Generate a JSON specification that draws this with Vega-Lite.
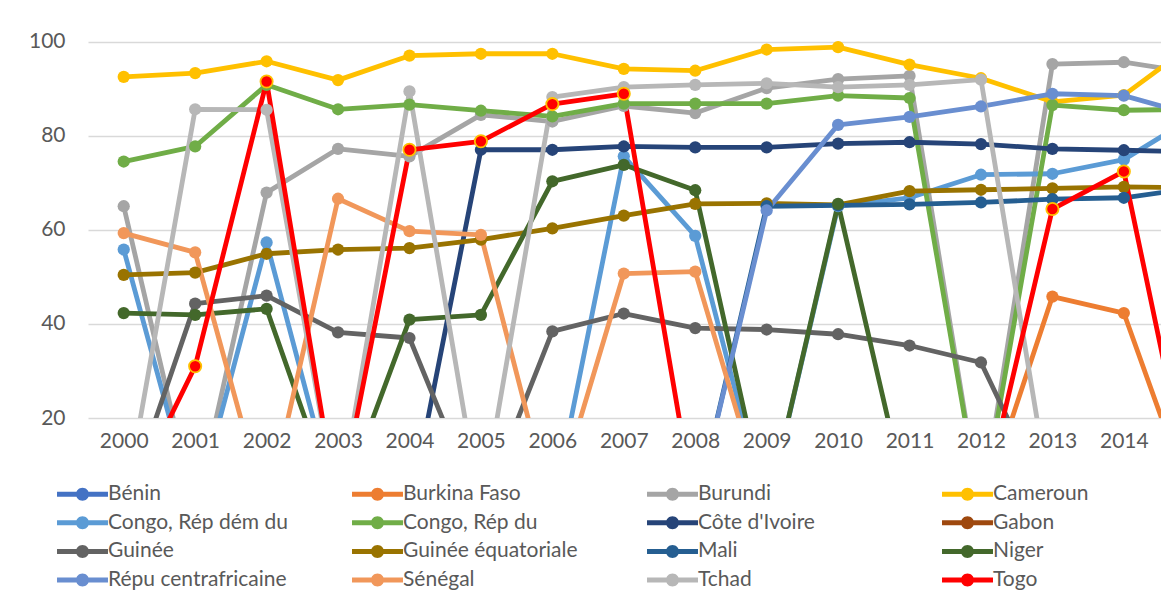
{
  "$schema": "https://vega.github.io/schema/vega-lite/v6.json",
  "autosize": {"type": "none"},
  "padding": {"left": 88, "top": 18, "right": 0, "bottom": 177},
  "width": 1073,
  "height": 400,
  "background": "white",
  "data": {"values": [
    {"country":"Bénin","year":2000,"value":0},{"country":"Bénin","year":2001,"value":0},{"country":"Bénin","year":2002,"value":0},{"country":"Bénin","year":2003,"value":0},{"country":"Bénin","year":2004,"value":0},{"country":"Bénin","year":2005,"value":0},{"country":"Bénin","year":2006,"value":0},{"country":"Bénin","year":2007,"value":0},{"country":"Bénin","year":2008,"value":0},{"country":"Bénin","year":2009,"value":0},{"country":"Bénin","year":2010,"value":0},{"country":"Bénin","year":2011,"value":0},{"country":"Bénin","year":2012,"value":0},{"country":"Bénin","year":2013,"value":0},{"country":"Bénin","year":2014,"value":0},{"country":"Bénin","year":2015,"value":0},
    {"country":"Burkina Faso","year":2000,"value":0},{"country":"Burkina Faso","year":2001,"value":0},{"country":"Burkina Faso","year":2002,"value":0},{"country":"Burkina Faso","year":2003,"value":0},{"country":"Burkina Faso","year":2004,"value":0},{"country":"Burkina Faso","year":2005,"value":0},{"country":"Burkina Faso","year":2006,"value":0},{"country":"Burkina Faso","year":2007,"value":0},{"country":"Burkina Faso","year":2008,"value":0},{"country":"Burkina Faso","year":2009,"value":0},{"country":"Burkina Faso","year":2010,"value":0},{"country":"Burkina Faso","year":2011,"value":0},{"country":"Burkina Faso","year":2012,"value":0},{"country":"Burkina Faso","year":2013,"value":45.8},{"country":"Burkina Faso","year":2014,"value":42.3},{"country":"Burkina Faso","year":2015,"value":0},
    {"country":"Burundi","year":2000,"value":65.0},{"country":"Burundi","year":2001,"value":0},{"country":"Burundi","year":2002,"value":67.9},{"country":"Burundi","year":2003,"value":77.2},{"country":"Burundi","year":2004,"value":75.6},{"country":"Burundi","year":2005,"value":84.4},{"country":"Burundi","year":2006,"value":83.0},{"country":"Burundi","year":2007,"value":86.3},{"country":"Burundi","year":2008,"value":84.8},{"country":"Burundi","year":2009,"value":90.1},{"country":"Burundi","year":2010,"value":92.0},{"country":"Burundi","year":2011,"value":92.7},{"country":"Burundi","year":2012,"value":0},{"country":"Burundi","year":2013,"value":95.2},{"country":"Burundi","year":2014,"value":95.6},{"country":"Burundi","year":2015,"value":93.3},
    {"country":"Cameroun","year":2000,"value":92.5},{"country":"Cameroun","year":2001,"value":93.3},{"country":"Cameroun","year":2002,"value":95.8},{"country":"Cameroun","year":2003,"value":91.8},{"country":"Cameroun","year":2004,"value":97.0},{"country":"Cameroun","year":2005,"value":97.4},{"country":"Cameroun","year":2006,"value":97.4},{"country":"Cameroun","year":2007,"value":94.2},{"country":"Cameroun","year":2008,"value":93.8},{"country":"Cameroun","year":2009,"value":98.3},{"country":"Cameroun","year":2010,"value":98.8},{"country":"Cameroun","year":2011,"value":95.1},{"country":"Cameroun","year":2012,"value":92.2},{"country":"Cameroun","year":2013,"value":87.2},{"country":"Cameroun","year":2014,"value":88.6},{"country":"Cameroun","year":2015,"value":99.8},
    {"country":"Congo, Rép dém du","year":2000,"value":55.8},{"country":"Congo, Rép dém du","year":2001,"value":0},{"country":"Congo, Rép dém du","year":2002,"value":57.3},{"country":"Congo, Rép dém du","year":2003,"value":0},{"country":"Congo, Rép dém du","year":2004,"value":0},{"country":"Congo, Rép dém du","year":2005,"value":0},{"country":"Congo, Rép dém du","year":2006,"value":0},{"country":"Congo, Rép dém du","year":2007,"value":75.6},{"country":"Congo, Rép dém du","year":2008,"value":58.7},{"country":"Congo, Rép dém du","year":2009,"value":0},{"country":"Congo, Rép dém du","year":2010,"value":65.0},{"country":"Congo, Rép dém du","year":2011,"value":66.8},{"country":"Congo, Rép dém du","year":2012,"value":71.7},{"country":"Congo, Rép dém du","year":2013,"value":71.9},{"country":"Congo, Rép dém du","year":2014,"value":74.9},{"country":"Congo, Rép dém du","year":2015,"value":84.2},
    {"country":"Congo, Rép du","year":2000,"value":74.5},{"country":"Congo, Rép du","year":2001,"value":77.7},{"country":"Congo, Rép du","year":2002,"value":90.8},{"country":"Congo, Rép du","year":2003,"value":85.6},{"country":"Congo, Rép du","year":2004,"value":86.6},{"country":"Congo, Rép du","year":2005,"value":85.3},{"country":"Congo, Rép du","year":2006,"value":84.1},{"country":"Congo, Rép du","year":2007,"value":86.8},{"country":"Congo, Rép du","year":2008,"value":86.8},{"country":"Congo, Rép du","year":2009,"value":86.8},{"country":"Congo, Rép du","year":2010,"value":88.5},{"country":"Congo, Rép du","year":2011,"value":88.0},{"country":"Congo, Rép du","year":2012,"value":0},{"country":"Congo, Rép du","year":2013,"value":86.5},{"country":"Congo, Rép du","year":2014,"value":85.4},{"country":"Congo, Rép du","year":2015,"value":85.6},
    {"country":"Côte d'Ivoire","year":2000,"value":0},{"country":"Côte d'Ivoire","year":2001,"value":0},{"country":"Côte d'Ivoire","year":2002,"value":0},{"country":"Côte d'Ivoire","year":2003,"value":0},{"country":"Côte d'Ivoire","year":2004,"value":0},{"country":"Côte d'Ivoire","year":2005,"value":77.0},{"country":"Côte d'Ivoire","year":2006,"value":77.0},{"country":"Côte d'Ivoire","year":2007,"value":77.7},{"country":"Côte d'Ivoire","year":2008,"value":77.5},{"country":"Côte d'Ivoire","year":2009,"value":77.5},{"country":"Côte d'Ivoire","year":2010,"value":78.3},{"country":"Côte d'Ivoire","year":2011,"value":78.6},{"country":"Côte d'Ivoire","year":2012,"value":78.2},{"country":"Côte d'Ivoire","year":2013,"value":77.2},{"country":"Côte d'Ivoire","year":2014,"value":76.9},{"country":"Côte d'Ivoire","year":2015,"value":76.5},
    {"country":"Gabon","year":2000,"value":0},{"country":"Gabon","year":2001,"value":0},{"country":"Gabon","year":2002,"value":0},{"country":"Gabon","year":2003,"value":0},{"country":"Gabon","year":2004,"value":0},{"country":"Gabon","year":2005,"value":0},{"country":"Gabon","year":2006,"value":0},{"country":"Gabon","year":2007,"value":0},{"country":"Gabon","year":2008,"value":0},{"country":"Gabon","year":2009,"value":0},{"country":"Gabon","year":2010,"value":0},{"country":"Gabon","year":2011,"value":0},{"country":"Gabon","year":2012,"value":0},{"country":"Gabon","year":2013,"value":0},{"country":"Gabon","year":2014,"value":0},{"country":"Gabon","year":2015,"value":0},
    {"country":"Guinée","year":2000,"value":0},{"country":"Guinée","year":2001,"value":44.3},{"country":"Guinée","year":2002,"value":46.0},{"country":"Guinée","year":2003,"value":38.2},{"country":"Guinée","year":2004,"value":37.0},{"country":"Guinée","year":2005,"value":0},{"country":"Guinée","year":2006,"value":38.4},{"country":"Guinée","year":2007,"value":42.2},{"country":"Guinée","year":2008,"value":39.1},{"country":"Guinée","year":2009,"value":38.8},{"country":"Guinée","year":2010,"value":37.8},{"country":"Guinée","year":2011,"value":35.4},{"country":"Guinée","year":2012,"value":31.8},{"country":"Guinée","year":2013,"value":0},{"country":"Guinée","year":2014,"value":0},{"country":"Guinée","year":2015,"value":0},
    {"country":"Guinée équatoriale","year":2000,"value":50.4},{"country":"Guinée équatoriale","year":2001,"value":50.9},{"country":"Guinée équatoriale","year":2002,"value":54.9},{"country":"Guinée équatoriale","year":2003,"value":55.8},{"country":"Guinée équatoriale","year":2004,"value":56.1},{"country":"Guinée équatoriale","year":2005,"value":57.9},{"country":"Guinée équatoriale","year":2006,"value":60.3},{"country":"Guinée équatoriale","year":2007,"value":63.0},{"country":"Guinée équatoriale","year":2008,"value":65.5},{"country":"Guinée équatoriale","year":2009,"value":65.6},{"country":"Guinée équatoriale","year":2010,"value":65.3},{"country":"Guinée équatoriale","year":2011,"value":68.2},{"country":"Guinée équatoriale","year":2012,"value":68.5},{"country":"Guinée équatoriale","year":2013,"value":68.8},{"country":"Guinée équatoriale","year":2014,"value":69.1},{"country":"Guinée équatoriale","year":2015,"value":68.9},
    {"country":"Mali","year":2000,"value":0},{"country":"Mali","year":2001,"value":0},{"country":"Mali","year":2002,"value":0},{"country":"Mali","year":2003,"value":0},{"country":"Mali","year":2004,"value":0},{"country":"Mali","year":2005,"value":0},{"country":"Mali","year":2006,"value":0},{"country":"Mali","year":2007,"value":0},{"country":"Mali","year":2008,"value":0},{"country":"Mali","year":2009,"value":65.0},{"country":"Mali","year":2010,"value":65.2},{"country":"Mali","year":2011,"value":65.4},{"country":"Mali","year":2012,"value":65.8},{"country":"Mali","year":2013,"value":66.5},{"country":"Mali","year":2014,"value":66.8},{"country":"Mali","year":2015,"value":68.9},
    {"country":"Niger","year":2000,"value":42.3},{"country":"Niger","year":2001,"value":41.9},{"country":"Niger","year":2002,"value":43.2},{"country":"Niger","year":2003,"value":0},{"country":"Niger","year":2004,"value":40.9},{"country":"Niger","year":2005,"value":41.9},{"country":"Niger","year":2006,"value":70.3},{"country":"Niger","year":2007,"value":73.8},{"country":"Niger","year":2008,"value":68.4},{"country":"Niger","year":2009,"value":0},{"country":"Niger","year":2010,"value":65.5},{"country":"Niger","year":2011,"value":0},{"country":"Niger","year":2012,"value":0},{"country":"Niger","year":2013,"value":0},{"country":"Niger","year":2014,"value":0},{"country":"Niger","year":2015,"value":0},
    {"country":"Répu centrafricaine","year":2000,"value":0},{"country":"Répu centrafricaine","year":2001,"value":0},{"country":"Répu centrafricaine","year":2002,"value":0},{"country":"Répu centrafricaine","year":2003,"value":0},{"country":"Répu centrafricaine","year":2004,"value":0},{"country":"Répu centrafricaine","year":2005,"value":0},{"country":"Répu centrafricaine","year":2006,"value":0},{"country":"Répu centrafricaine","year":2007,"value":0},{"country":"Répu centrafricaine","year":2008,"value":0},{"country":"Répu centrafricaine","year":2009,"value":64.1},{"country":"Répu centrafricaine","year":2010,"value":82.3},{"country":"Répu centrafricaine","year":2011,"value":84.0},{"country":"Répu centrafricaine","year":2012,"value":86.2},{"country":"Répu centrafricaine","year":2013,"value":88.9},{"country":"Répu centrafricaine","year":2014,"value":88.5},{"country":"Répu centrafricaine","year":2015,"value":84.3},
    {"country":"Sénégal","year":2000,"value":59.3},{"country":"Sénégal","year":2001,"value":55.2},{"country":"Sénégal","year":2002,"value":0},{"country":"Sénégal","year":2003,"value":66.6},{"country":"Sénégal","year":2004,"value":59.7},{"country":"Sénégal","year":2005,"value":58.9},{"country":"Sénégal","year":2006,"value":0},{"country":"Sénégal","year":2007,"value":50.7},{"country":"Sénégal","year":2008,"value":51.1},{"country":"Sénégal","year":2009,"value":0},{"country":"Sénégal","year":2010,"value":0},{"country":"Sénégal","year":2011,"value":0},{"country":"Sénégal","year":2012,"value":0},{"country":"Sénégal","year":2013,"value":0},{"country":"Sénégal","year":2014,"value":0},{"country":"Sénégal","year":2015,"value":0},
    {"country":"Tchad","year":2000,"value":0},{"country":"Tchad","year":2001,"value":85.6},{"country":"Tchad","year":2002,"value":85.5},{"country":"Tchad","year":2003,"value":0},{"country":"Tchad","year":2004,"value":89.4},{"country":"Tchad","year":2005,"value":0},{"country":"Tchad","year":2006,"value":88.2},{"country":"Tchad","year":2007,"value":90.3},{"country":"Tchad","year":2008,"value":90.8},{"country":"Tchad","year":2009,"value":91.1},{"country":"Tchad","year":2010,"value":90.3},{"country":"Tchad","year":2011,"value":90.8},{"country":"Tchad","year":2012,"value":91.9},{"country":"Tchad","year":2013,"value":0},{"country":"Tchad","year":2014,"value":0},{"country":"Tchad","year":2015,"value":0},
    {"country":"Togo","year":2000,"value":0},{"country":"Togo","year":2001,"value":31.0},{"country":"Togo","year":2002,"value":91.5},{"country":"Togo","year":2003,"value":0},{"country":"Togo","year":2004,"value":77.0},{"country":"Togo","year":2005,"value":78.8},{"country":"Togo","year":2006,"value":86.7},{"country":"Togo","year":2007,"value":88.9},{"country":"Togo","year":2008,"value":0},{"country":"Togo","year":2009,"value":0},{"country":"Togo","year":2010,"value":0},{"country":"Togo","year":2011,"value":0},{"country":"Togo","year":2012,"value":0},{"country":"Togo","year":2013,"value":64.4},{"country":"Togo","year":2014,"value":72.4},{"country":"Togo","year":2015,"value":0}
  ]},
  "encoding": {
    "x": {
      "field": "year", "type": "quantitative",
      "scale": {"domain": [1999.5, 2014.52], "nice": false, "zero": false},
      "axis": {
        "title": null, "values": [2000,2001,2002,2003,2004,2005,2006,2007,2008,2009,2010,2011,2012,2013,2014],
        "format": "d", "grid": false, "domain": false, "ticks": false, "tickSize": 0,
        "labelPadding": 12, "labelFont": "Lato", "labelFontSize": 21,
        "labelColor": "#595959", "labelFlush": false, "labelOverlap": false
      }
    },
    "y": {
      "field": "value", "type": "quantitative",
      "scale": {"domain": [20, 105], "nice": false, "zero": false},
      "axis": {
        "title": null, "values": [20,40,60,80,100], "grid": true, "gridColor": "#D9D9D9", "gridWidth": 1.5,
        "domain": false, "ticks": false, "tickSize": 0, "labelPadding": 23,
        "labelFont": "Lato", "labelFontSize": 21, "labelColor": "#595959"
      }
    },
    "color": {
      "field": "country", "type": "nominal",
      "scale": {
        "domain": ["Bénin","Burkina Faso","Burundi","Cameroun","Congo, Rép dém du","Congo, Rép du","Côte d'Ivoire","Gabon","Guinée","Guinée équatoriale","Mali","Niger","Répu centrafricaine","Sénégal","Tchad","Togo"],
        "range": ["#4472C4","#ED7D31","#A5A5A5","#FFC000","#5B9BD5","#70AD47","#264478","#9E480E","#636363","#997300","#255E91","#43682B","#698ED0","#F1975A","#B7B7B7","#FF0000"]
      },
      "legend": {
        "title": null, "orient": "none", "legendX": -16, "legendY": 465.5, "columns": 4,
        "direction": "horizontal", "gridAlign": "all", "columnPadding": 64, "rowPadding": 6.7, "padding": 0,
        "symbolType": "M-3.92,-0.385L3.92,-0.385L3.92,0.385L-3.92,0.385Z M1,0A1,1,0,1,1,-1,0A1,1,0,1,1,1,0Z",
        "symbolSize": 169, "symbolStrokeWidth": 0, "labelOffset": 15,
        "labelFont": "Lato", "labelFontSize": 21, "labelColor": "#595959", "labelLimit": 400,
        "encode": {"symbols": {"update": {"fill": {"signal": "scale('color', datum.value)"}, "strokeWidth": {"value": 0}, "opacity": {"value": 1}}}}
      }
    }
  },
  "layer": [
    {
      "mark": {"type": "line", "clip": true, "strokeWidth": 4.8, "strokeCap": "round", "strokeJoin": "round"},
      "encoding": {"detail": {"field": "country"}}
    },
    {
      "mark": {"type": "point", "clip": true, "filled": true, "opacity": 1, "size": 150, "shape": "circle", "stroke": "#FFC000"},
      "encoding": {
        "strokeWidth": {"condition": {"test": "datum.country === 'Togo'", "value": 1.8}, "value": 0}
      }
    }
  ],
  "config": {"view": {"stroke": null}}
}
